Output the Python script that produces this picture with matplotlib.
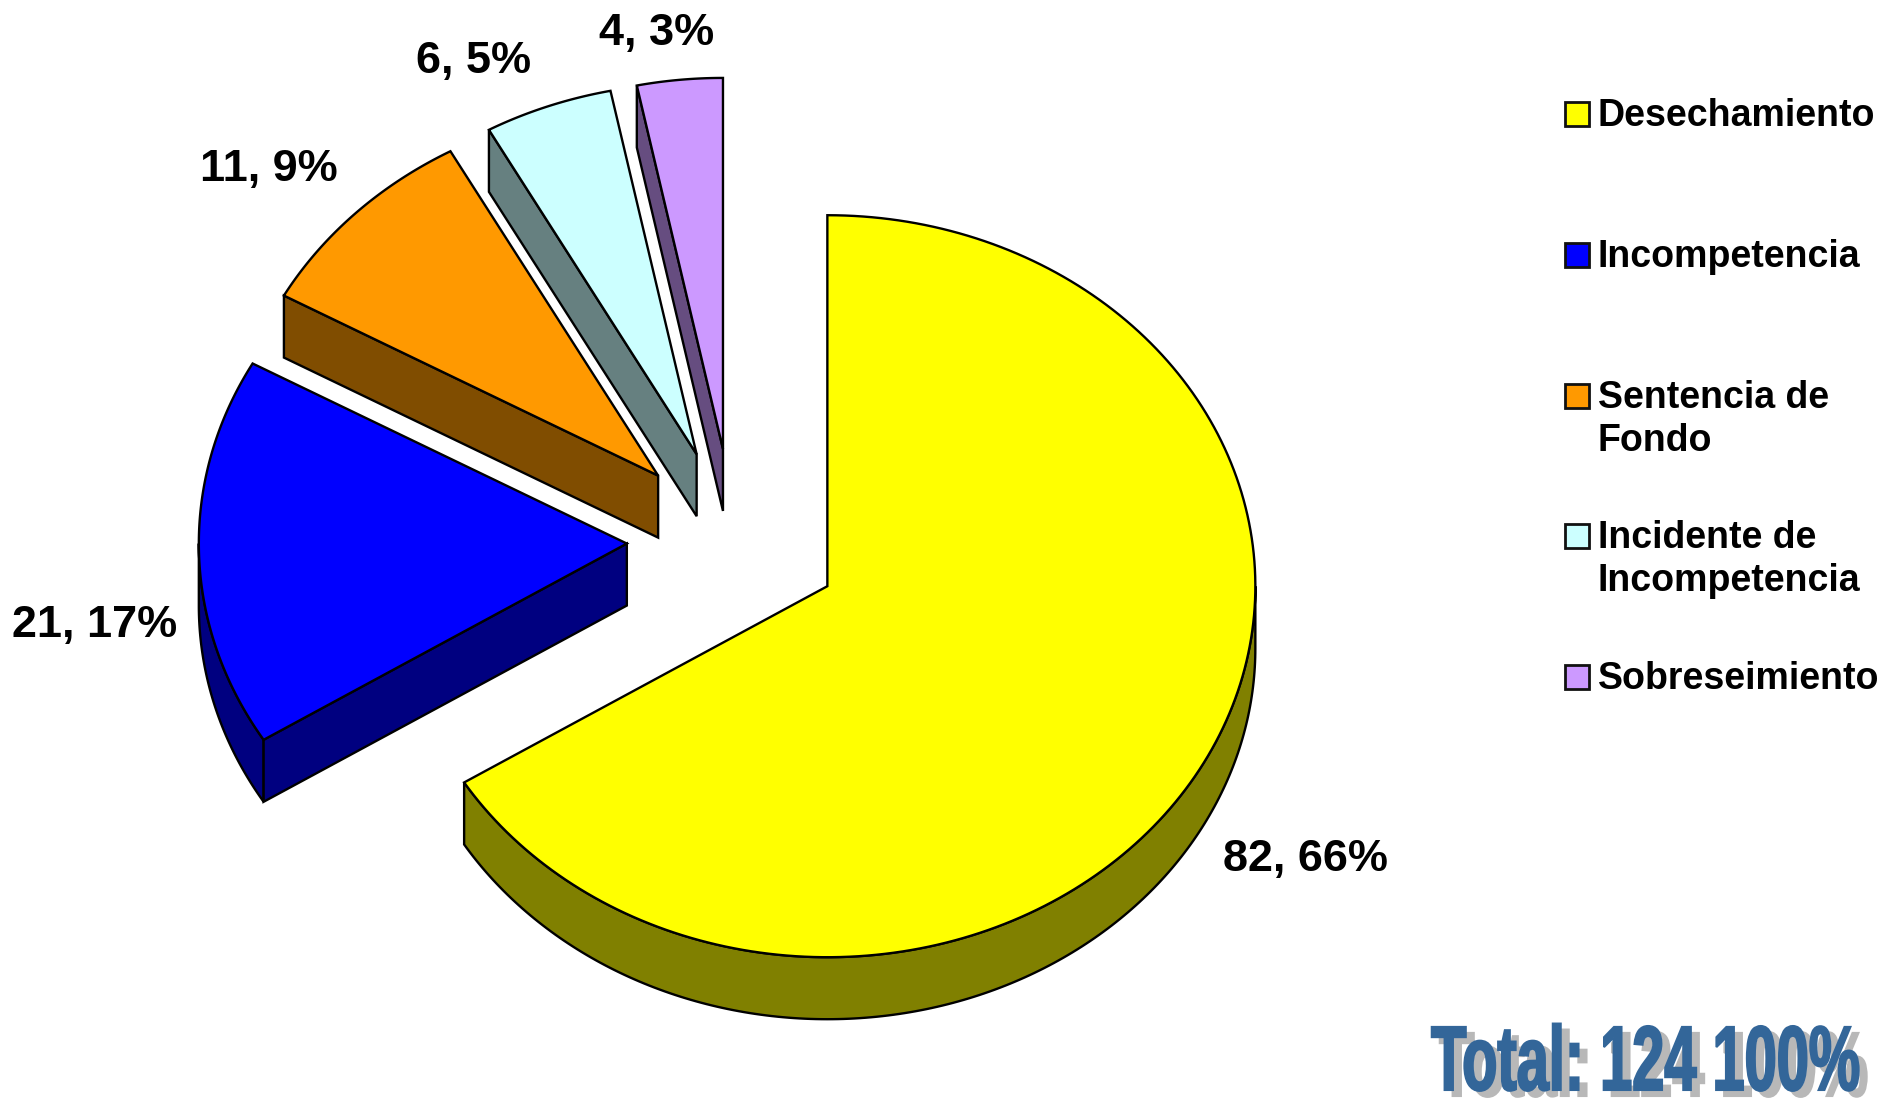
'''
Exploded 3D-look pie chart of case outcomes, with legend and total.
'''

import numpy as np
import matplotlib
matplotlib.use('Agg')
import matplotlib.pyplot as plt
from matplotlib.patches import Polygon, Rectangle
from matplotlib.patheffects import AbstractPathEffect
from matplotlib.transforms import Affine2D

categories = ['Desechamiento', 'Incompetencia', 'Sentencia de\nFondo',
              'Incidente de\nIncompetencia', 'Sobreseimiento']
values = [82, 21, 11, 6, 4]
top_colors = ['#FFFF00', '#0000FF', '#FF9900', '#CCFFFF', '#CC99FF']
side_colors = ['#808000', '#000080', '#804D00', '#668080', '#664D80']
label_xy = [(1305, 859), (95, 625), (269, 170), (473, 61), (657, 33)]
legend_y = [114, 255, 396, 536, 677]

W, H = 1900, 1098
CX, CY = 733.8, 541.2
RX, RY = 428.0, 371.0
EXPLODE = 0.25
DEPTH = 62 / RY
LW = 1.7
DARK = '#000000'


class Squeezed(AbstractPathEffect):
    '''Draws text narrower about a fixed x, as WordArt does, with a fill and stroke.'''

    def __init__(self, x0, xscale, color, width, dx=0, dy=0):
        super().__init__((0, 0))
        self.x0, self.xscale, self.color, self.width = x0, xscale, color, width
        self.dx, self.dy = dx, dy

    def draw_path(self, renderer, gc, tpath, affine, rgbFace=None):
        squeeze = (Affine2D().translate(-self.x0, 0).scale(self.xscale, 1)
                   .translate(self.x0 + self.dx, self.dy))
        gc0 = renderer.new_gc()
        gc0.copy_properties(gc)
        gc0.set_foreground(self.color)
        gc0.set_linewidth(self.width)
        gc0.set_joinstyle('miter')
        face = matplotlib.colors.to_rgb(self.color)
        renderer.draw_path(gc0, tpath, affine + squeeze, face)
        gc0.restore()


def edge(theta):
    '''Point on the unit pie, theta in degrees clockwise from 12 o'clock.'''
    t = np.radians(theta)
    return np.sin(t), np.cos(t)


def draw_slice(ax, start, stop, top, side):
    mid = (start + stop) / 2
    ox, oy = edge(mid)
    ox, oy = ox * EXPLODE, oy * EXPLODE
    theta = np.linspace(start, stop, 200)
    xs, ys = edge(theta)
    xs, ys = xs + ox, ys + oy

    # outer wall, only the part of the rim that faces down
    lo, hi = max(start, 90), min(stop, 270)
    if lo < hi:
        rim = np.linspace(lo, hi, 200)
        rx, ry = edge(rim)
        rx, ry = rx + ox, ry + oy
        wall = np.r_[np.c_[rx, ry], np.c_[rx, ry - DEPTH][::-1]]
        ax.add_patch(Polygon(wall, fc=side, ec=DARK, lw=LW, zorder=2))

    # cut wall, seen on slices whose first edge points to the left
    if 180 < start < 360:
        px, py = edge(start)
        px, py = px + ox, py + oy
        cut = [(ox, oy), (px, py), (px, py - DEPTH), (ox, oy - DEPTH)]
        ax.add_patch(Polygon(cut, fc=side, ec=DARK, lw=LW, zorder=2))

    face = np.r_[[(ox, oy)], np.c_[xs, ys]]
    ax.add_patch(Polygon(face, fc=top, ec=DARK, lw=LW, zorder=3))


fig = plt.figure(figsize=(W / 100, H / 100), dpi=100, facecolor='white')
ax = fig.add_axes([0, 0, 1, 1])
ax.set_xlim(-CX / RX, (W - CX) / RX)
ax.set_ylim((CY - H) / RY, CY / RY)
ax.axis('off')

total = sum(values)
angles = np.r_[0, np.cumsum(values)] / total * 360
for i in range(len(values)):
    draw_slice(ax, angles[i], angles[i + 1], top_colors[i], side_colors[i])

font = 'Liberation Sans'
for v, (x, y) in zip(values, label_xy):
    fig.text(x / W, 1 - y / H, f'{v}, {round(100 * v / total)}%', family=font,
             weight='bold', fontsize=32.4, ha='center', va='center', color='black')

for name, color, y in zip(categories, top_colors, legend_y):
    fig.add_artist(Rectangle((1565 / W, 1 - (y + 12) / H), 24 / W, 24 / H, fc=color,
                             ec='#111111', lw=2, transform=fig.transFigure))
    fig.text(1598 / W, 1 - (y - 16) / H, name, family=font, weight='bold', fontsize=27,
             ha='left', va='top', color='black', linespacing=1.25)

# WordArt style total, right edge fixed at x=1860; anchored higher so the
# text box keeps inside the figure, the effects bring the glyphs back down
drop = 16
total_txt = fig.text(1860 / W, 1 - (1090 - drop) / H, f'Total: {total} 100%', family=font,
                     weight='bold', fontsize=66, ha='right', va='baseline', color='#336699')
total_txt.set_path_effects([
    Squeezed(1860, 0.63, '#B8B8B8', 1.5, dx=8, dy=-6 - drop),
    Squeezed(1860, 0.63, '#336699', 1.5, dy=-drop),
])

fig.savefig('out.png', dpi=100)
